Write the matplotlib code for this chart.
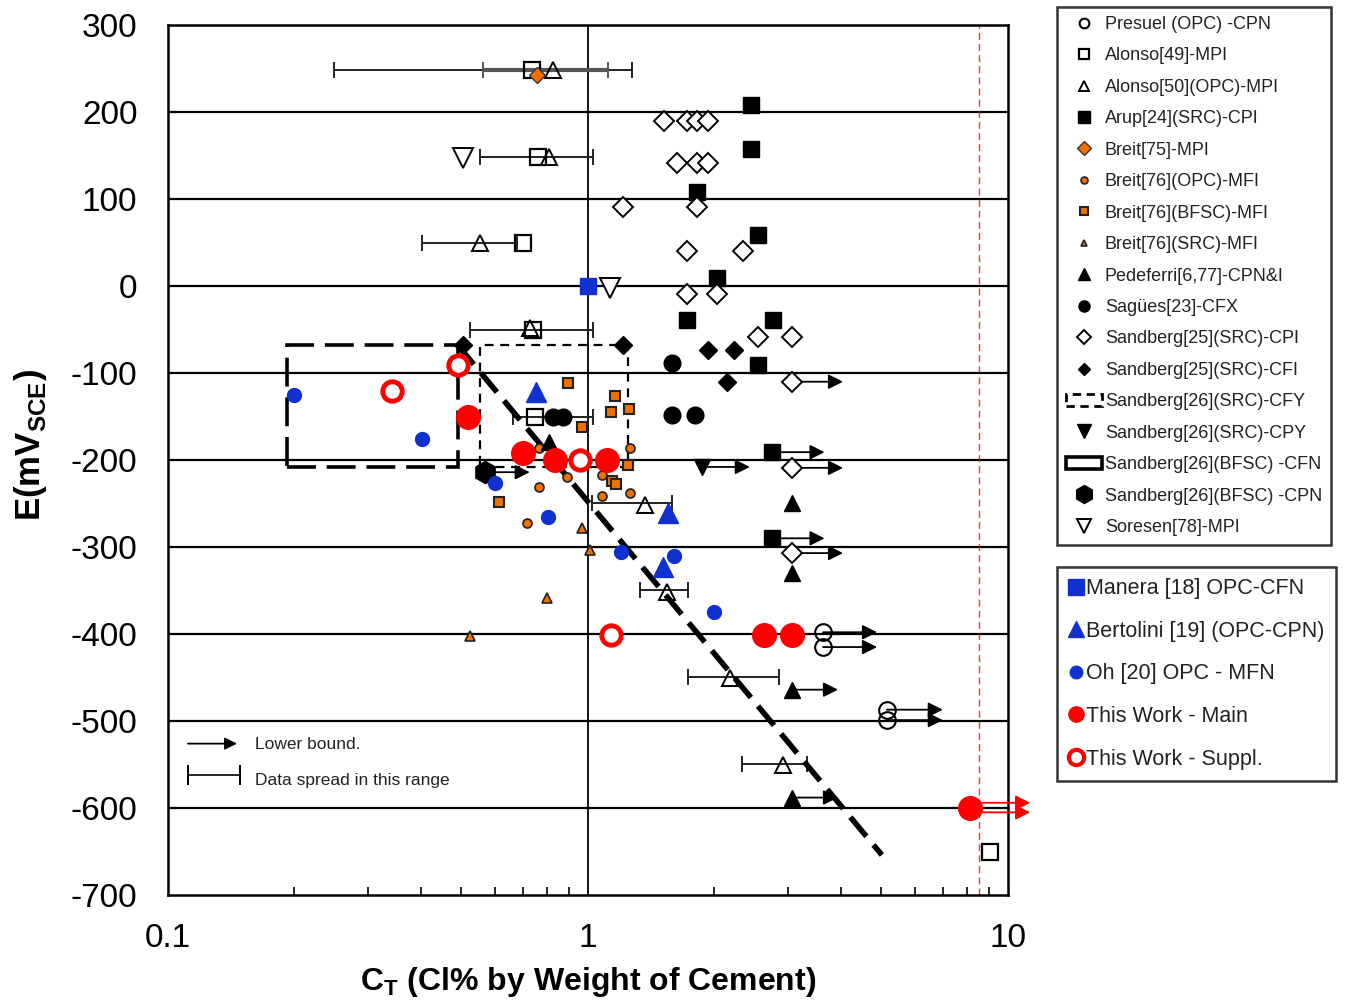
import matplotlib
matplotlib.use("Agg")
import matplotlib.pyplot as plt
import matplotlib.patches as mpatches
from matplotlib.lines import Line2D

plt.rcParams['font.family'] = ['Liberation Sans', 'DejaVu Sans']
plt.rcParams['mathtext.fontset'] = 'custom'
plt.rcParams['mathtext.rm'] = 'Liberation Sans'
plt.rcParams['mathtext.bf'] = 'Liberation Sans:bold'
plt.rcParams['axes.unicode_minus'] = False

# ---- data (x = Cl% by weight of cement, y = mV SCE) ----
presuel_x = [3.63, 3.63, 5.15, 5.15]
presuel_y = [-398, -415, -487, -499]
presuel_arrow_end = [4.88, 4.88, 7.0, 7.0]

alonso49_x = [0.736, 0.762, 0.70, 0.74, 0.75, 9.06]
alonso49_y = [248, 148, 49, -51, -151, -651]

alonso50_x = [0.826, 0.81, 0.553, 0.728, 1.367, 1.54, 2.18, 2.91]
alonso50_y = [248, 148, 49, -48, -252, -352, -451, -551]

arup_x = [2.44, 2.44, 1.82, 2.54, 2.03, 1.72, 2.76, 2.54, 2.75, 2.75]
arup_y = [208, 158, 108, 59, 9, -39, -39, -91, -191, -290]
arup_arrow_y = [-191, -290]
arup_arrow_end = 3.66

breit75_x = [0.756]
breit75_y = [242]

breit76_opc_x = [0.764, 0.764, 0.891, 0.716, 1.08, 1.08, 1.259, 1.259]
breit76_opc_y = [-186, -231, -219, -272, -217, -241, -186, -238]

breit76_bfsc_x = [0.896, 1.16, 1.134, 1.252, 0.968, 0.614, 1.14, 1.166, 1.246]
breit76_bfsc_y = [-112, -126, -145, -141, -162, -248, -224, -228, -206]

breit76_src_x = [0.968, 0.799, 1.011, 0.524]
breit76_src_y = [-278, -359, -303, -402]

pedeferri_x = [0.808, 3.06, 3.06, 3.06, 3.06]
pedeferri_y = [-179, -249, -330, -464, -588]
pedeferri_arrow_y = [-464, -588]
pedeferri_arrow_end = 3.94

sagues_x = [0.826, 0.872, 1.585, 1.80, 1.585]
sagues_y = [-151, -151, -148, -148, -88]

sand25_cpi_x = [1.517, 1.72, 1.818, 1.93, 1.63, 1.818, 1.93, 1.21, 1.818,
                1.72, 2.34, 1.72, 2.03, 2.54, 3.06, 3.06, 3.06, 3.06]
sand25_cpi_y = [190, 190, 190, 190, 141, 141, 141, 91, 91,
                40, 40, -9, -9, -59, -59, -110, -209, -307]
sand25_arrow_y = [-110, -209, -307]
sand25_arrow_end = 4.05

sand25_cfi_x = [0.503, 1.21, 1.93, 2.23, 2.14]
sand25_cfi_y = [-68, -68, -74, -74, -110]

cfy_box = [0.553, 1.245, -208, -68]   # xmin, xmax, ymin, ymax
cfn_box = [0.192, 0.49, -208, -68]

cpy_x = [1.868]
cpy_y = [-208]
cpy_arrow_end = 2.43

cpn_x = [0.569]
cpn_y = [-214]
cpn_arrow_end = 0.727

soresen_x = [0.504, 1.128]
soresen_y = [147, -2]

manera_x = [1.0]
manera_y = [0]

bertolini_x = [0.752, 1.55, 1.51]
bertolini_y = [-122, -261, -323]

oh_x = [0.2, 0.4025, 0.60, 0.803, 1.198, 1.60, 2.0]
oh_y = [-125, -176, -226, -266, -306, -310, -375]

main_x = [0.518, 0.70, 0.834, 1.11, 2.62, 3.06, 8.12]
main_y = [-150, -192, -200, -200, -401, -401, -600]
main_arrow_y = [-594, -605]
main_arrow_end = 11.3

suppl_x = [0.49, 0.341, 0.957, 1.134]
suppl_y = [-91, -121, -200, -401]

# horizontal data spreads: (y, xlow, xhigh)
spread_y = [248, 148, 49, -51, -151, -249, -349, -449, -549]
spread_lo = [0.248, 0.553, 0.402, 0.524, 0.663, 1.022, 1.33, 1.73, 2.33]
spread_hi = [1.273, 1.028, 0.678, 1.028, 1.028, 1.585, 1.73, 2.85, 3.32]
grey_spread = [248, 0.562, 1.116]

fit_x = [0.49, 5.01]
fit_y = [-68, -654]
limit_x = 8.53

fig = plt.figure(figsize=(13.5, 10.01), dpi=100)
ax = fig.add_axes([0.1244, 0.1059, 0.6222, 0.8691])
ax.set_xscale('log')
ax.set_xlim(0.1, 10)
ax.set_ylim(-700, 300)

for yy in range(-600, 301, 100):
    ax.axhline(yy, color='k', lw=1.6, zorder=1)
ax.axvline(1, color='k', lw=1.3, zorder=1)
ax.axvline(limit_x, color='red', lw=1, ls=(0, (5, 3)), alpha=0.8, zorder=1)


def spread(lo, hi, yy, color='#222222', lw=1.4, cap=6):
    mid = (lo + hi) / 2
    ax.errorbar(mid, yy, xerr=[[mid - lo], [hi - mid]], fmt='none', ecolor=color,
                elinewidth=lw, capsize=cap, capthick=1.4, zorder=2)


for yy, lo, hi in zip(spread_y, spread_lo, spread_hi):
    spread(lo, hi, yy)
spread(grey_spread[1], grey_spread[2], grey_spread[0], color='#555555', lw=3)

# boxes
ax.add_patch(mpatches.Rectangle((cfn_box[0], cfn_box[2]), cfn_box[1] - cfn_box[0],
                                cfn_box[3] - cfn_box[2], fill=False, ec='k', lw=2.6,
                                ls=(0, (8, 3)), zorder=3))
ax.add_patch(mpatches.Rectangle((cfy_box[0], cfy_box[2]), cfy_box[1] - cfy_box[0],
                                cfy_box[3] - cfy_box[2], fill=False, ec='k', lw=1.6,
                                ls=(0, (4, 3)), zorder=3))

# fit line
ax.plot(fit_x, fit_y, color='k', lw=4, ls=(0, (4.5, 2)), zorder=4)


def arrow(x0, x1, y, color='k', scale=22):
    ax.annotate('', xy=(x1, y), xytext=(x0, y), annotation_clip=False,
                arrowprops=dict(arrowstyle='-|>', color=color, lw=1.3,
                                mutation_scale=scale, shrinkA=0, shrinkB=0), zorder=5)


for x0, y0, x1 in zip(presuel_x, presuel_y, presuel_arrow_end):
    arrow(x0, x1, y0)
for y0 in arup_arrow_y:
    arrow(2.75, arup_arrow_end, y0)
for y0 in pedeferri_arrow_y:
    arrow(3.06, pedeferri_arrow_end, y0)
for y0 in sand25_arrow_y:
    arrow(3.06, sand25_arrow_end, y0)
arrow(cpy_x[0], cpy_arrow_end, cpy_y[0])
arrow(cpn_x[0], cpn_arrow_end, cpn_y[0])
for y0 in main_arrow_y:
    arrow(main_x[-1], main_arrow_end, y0, color='red')

orange = '#f07000'
styles = [
    ('Presuel (OPC) -CPN', presuel_x, presuel_y, dict(marker='o', ms=12, mfc='none', mec='k', mew=1.5)),
    ('Alonso[49]-MPI', alonso49_x, alonso49_y, dict(marker='s', ms=12, mfc='none', mec='k', mew=1.6)),
    ('Alonso[50](OPC)-MPI', alonso50_x, alonso50_y, dict(marker='^', ms=12, mfc='none', mec='k', mew=1.4)),
    ('Arup[24](SRC)-CPI', arup_x, arup_y, dict(marker='s', ms=12, mfc='k', mec='k')),
    ('Breit[75]-MPI', breit75_x, breit75_y, dict(marker='D', ms=8, mfc=orange, mec='#333333', mew=1)),
    ('Breit[76](OPC)-MFI', breit76_opc_x, breit76_opc_y, dict(marker='o', ms=6.5, mfc=orange, mec='#222222', mew=1.2)),
    ('Breit[76](BFSC)-MFI', breit76_bfsc_x, breit76_bfsc_y, dict(marker='s', ms=6.5, mfc=orange, mec='#222222', mew=1.5)),
    ('Breit[76](SRC)-MFI', breit76_src_x, breit76_src_y, dict(marker='^', ms=6.5, mfc=orange, mec='#222222', mew=1.2)),
    ('Pedeferri[6,77]-CPN&I', pedeferri_x, pedeferri_y, dict(marker='^', ms=12, mfc='k', mec='k')),
    ('Sagües[23]-CFX', sagues_x, sagues_y, dict(marker='o', ms=12, mfc='k', mec='k')),
    ('Sandberg[25](SRC)-CPI', sand25_cpi_x, sand25_cpi_y, dict(marker='D', ms=10, mfc='white', mec='k', mew=1.4)),
    ('Sandberg[25](SRC)-CFI', sand25_cfi_x, sand25_cfi_y, dict(marker='D', ms=9, mfc='k', mec='k')),
    (None, None, None, None),
    ('Sandberg[26](SRC)-CPY', cpy_x, cpy_y, dict(marker='v', ms=12, mfc='k', mec='k')),
    (None, None, None, None),
    ('Sandberg[26](BFSC) -CPN', cpn_x, cpn_y, dict(marker='h', ms=16, mfc='k', mec='k')),
    ('Soresen[78]-MPI', soresen_x, soresen_y, dict(marker='v', ms=14, mfc='white', mec='k', mew=1.4)),
]
styles2 = [
    ('Manera [18] OPC-CFN', manera_x, manera_y, dict(marker='s', ms=12, mfc='#1030d0', mec='#1030d0')),
    ('Bertolini [19] (OPC-CPN)', bertolini_x, bertolini_y, dict(marker='^', ms=14, mfc='#1030d0', mec='#1030d0')),
    ('Oh [20] OPC - MFN', oh_x, oh_y, dict(marker='o', ms=10, mfc='#1030d0', mec='#1030d0')),
    ('This Work - Main', main_x, main_y, dict(marker='o', ms=17, mfc='red', mec='red')),
    ('This Work - Suppl.', suppl_x, suppl_y, dict(marker='o', ms=14, mfc='white', mec='red', mew=3.5)),
]

# legend marker sizes (smaller than plot markers, as in the original key)
legend1_ms = [7, 7, 7, 8, 7, 5, 6, 5, 8, 8, 7, 6, None, 10, None, 13, 10]

handles, labels = [], []
box_handles = {12: ('Sandberg[26](SRC)-CFY', mpatches.Patch(fc='none', ec='k', lw=2, ls=(0, (3, 2)))),
               14: ('Sandberg[26](BFSC) -CFN', mpatches.Patch(fc='none', ec='k', lw=2.6))}
for i, (lab, xs, ys, st) in enumerate(styles):
    if lab is None:
        labels.append(box_handles[i][0])
        handles.append(box_handles[i][1])
        continue
    ax.plot(xs, ys, ls='none', zorder=6, **st)
    handles.append(Line2D([], [], ls='none', **dict(st, ms=legend1_ms[i])))
    labels.append(lab)

handles2, labels2 = [], []
for lab, xs, ys, st in styles2:
    ax.plot(xs, ys, ls='none', zorder=7, **st)
    small = dict(st, ms=11 if st['ms'] > 11 else st['ms'] * 0.9)
    if lab == 'This Work - Suppl.':
        small['mew'] = 3
    handles2.append(Line2D([], [], ls='none', **small))
    labels2.append(lab)

leg1 = fig.legend(handles, labels, loc='upper left', bbox_to_anchor=(0.783, 0.993),
                  fontsize=13, frameon=True, fancybox=False, edgecolor='k',
                  handlelength=2.0, handletextpad=0.15, labelspacing=0.8,
                  borderpad=0.5, borderaxespad=0)
leg1.get_frame().set_linewidth(1.8)
leg2 = fig.legend(handles2, labels2, loc='upper left', bbox_to_anchor=(0.783, 0.434),
                  fontsize=15.5, frameon=True, fancybox=False, edgecolor='k',
                  handlelength=0.7, handletextpad=0.1, labelspacing=1.0,
                  borderpad=0.55, borderaxespad=0)
leg2.get_frame().set_linewidth(1.8)
for t in leg1.get_texts() + leg2.get_texts():
    t.set_color('#222222')

# small in-plot key
key_arrow = [0.1116, 0.146, -526]
key_spread = [0.1116, 0.1483, -562]
arrow(key_arrow[0], key_arrow[1], key_arrow[2], scale=18)
spread(key_spread[0], key_spread[1], key_spread[2], color='k', lw=1.2, cap=7)
ax.text(0.161, -527, 'Lower bound.', fontsize=12.5, va='center', color='#222222')
ax.text(0.161, -568, 'Data spread in this range', fontsize=12.5, va='center', color='#222222')

ax.set_xticks([0.1, 1, 10])
ax.set_xticklabels(['0.1', '1', '10'])
ax.set_yticks(range(-700, 301, 100))
ax.tick_params(axis='x', which='both', direction='in', labelsize=24, pad=20)
ax.tick_params(axis='x', which='major', length=0)
ax.tick_params(axis='x', which='minor', length=6, width=1.2)
ax.tick_params(axis='y', length=0, labelsize=24, pad=22)
for s in ax.spines.values():
    s.set_linewidth(1.8)

ax.set_xlabel(r'C$_{\mathbf{T}}$ (Cl% by Weight of Cement)', fontsize=23,
              fontweight='bold', labelpad=8)
ax.set_ylabel(r'E(mV$_{\mathbf{SCE}}$)', fontsize=25, fontweight='bold')
ax.yaxis.set_label_coords(-0.142, 0.517)

fig.savefig('out.png', dpi=100)
